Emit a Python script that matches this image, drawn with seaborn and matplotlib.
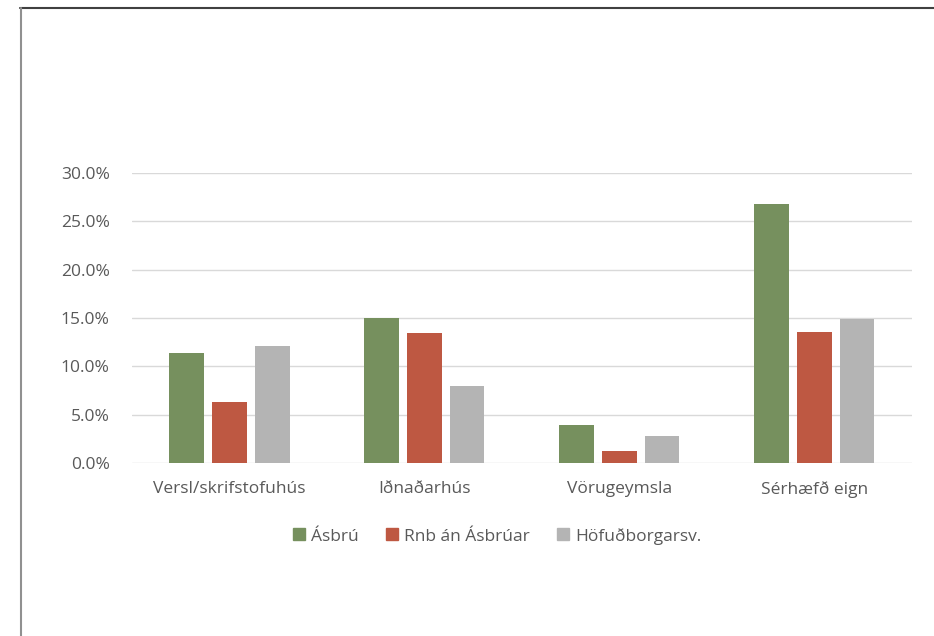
import pandas as pd
import numpy as np
import matplotlib.pyplot as plt
import seaborn as sns
from matplotlib.lines import Line2D
from matplotlib.ticker import PercentFormatter

# Data (percent)
categories = ["Versl/skrifstofuhús", "Iðnaðarhús", "Vörugeymsla", "Sérhæfð eign"]
series = ["Ásbrú", "Rnb án Ásbrúar", "Höfuðborgarsv."]
asbru = [11.4, 15.0, 3.9, 26.8]
rnb = [6.3, 13.5, 1.25, 13.6]
hofudb = [12.1, 8.0, 2.8, 14.9]
colors = ["#76905E", "#BE5842", "#B4B4B4"]

df = pd.DataFrame({
    "Flokkur": categories * 3,
    "Svæði": [s for s in series for _ in categories],
    "Hlutfall": asbru + rnb + hofudb,
})

sns.set_theme(style="white")
plt.rcParams['font.family'] = ['Open Sans', 'DejaVu Sans']

fig = plt.figure(figsize=(9.34, 6.36), dpi=100)
ax = fig.add_axes([0.1413, 0.272, 0.835, 0.456])

sns.barplot(data=df, x="Flokkur", y="Hlutfall", hue="Svæði", palette=colors,
            saturation=1, width=0.66, gap=0.2, linewidth=0, ax=ax, legend=False)

ax.set_ylim(0, 30)
ax.set_yticks(np.arange(0, 31, 5))
ax.yaxis.set_major_formatter(PercentFormatter(decimals=1))
ax.grid(axis="y", color="#D9D9D9", linewidth=1)
ax.set_axisbelow(True)
for s in ax.spines.values():
    s.set_visible(False)
ax.set_xlabel("")
ax.set_ylabel("")
ax.tick_params(axis="y", length=0, pad=16, labelsize=12.5, labelcolor="#595959")
ax.tick_params(axis="x", length=0, pad=13, labelsize=12.5, labelcolor="#595959")

handles = [Line2D([], [], marker="s", linestyle="", markersize=8, color=c) for c in colors]
fig.legend(handles, series, loc="center", bbox_to_anchor=(0.531, 0.157), ncol=3,
           frameon=False, fontsize=12.5, labelcolor="#595959",
           handletextpad=0.2, columnspacing=1.4, handlelength=1.0)

# outer frame lines as in the source screenshot
fig.add_artist(Line2D([20 / 934, 1], [1 - 8 / 636, 1 - 8 / 636], color="#404040", linewidth=1.5))
fig.add_artist(Line2D([21 / 934, 21 / 934], [0, 1 - 8 / 636], color="#909090", linewidth=1.5))

fig.savefig("out.png", dpi=100)
